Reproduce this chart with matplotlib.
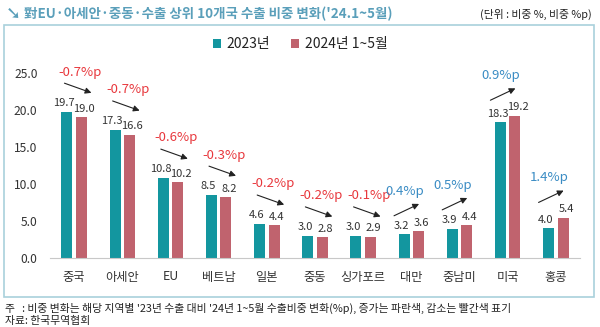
import numpy as np
import matplotlib
matplotlib.use('Agg')
from matplotlib import pyplot as plt
from matplotlib.patches import Rectangle

plt.rcParams['font.family'] = ['Noto Sans CJK KR', 'DejaVu Sans']

regions = ['중국', '아세안', 'EU', '베트남', '일본', '중동', '싱가포르', '대만', '중남미', '미국', '홍콩']
share_2023 = [19.7, 17.3, 10.8, 8.5, 4.6, 3.0, 3.0, 3.2, 3.9, 18.3, 4.0]
share_2024 = [19.0, 16.6, 10.2, 8.2, 4.4, 2.8, 2.9, 3.6, 4.4, 19.2, 5.4]
change = [-0.7, -0.7, -0.6, -0.3, -0.2, -0.2, -0.1, 0.4, 0.5, 0.9, 1.4]
yticks = [0, 5, 10, 15, 20, 25]

teal = '#13969f'
pink = '#c0636e'
red = '#e8383d'
blue = '#3a8cc4'
frame = '#a9d1dc'

fig = plt.figure(figsize=(6, 3.27), dpi=100)
ax = fig.add_axes([50/600, 69/327, 530/600, 200/327])

x = np.arange(len(regions))
w = 0.23
gap = 0.035
ax.bar(x - w/2 - gap, share_2023, w, color=teal, label='2023년')
ax.bar(x + w/2 + gap, share_2024, w, color=pink, label='2024년 1~5월')

for i in range(len(regions)):
    ax.text(x[i] - w/2 - gap - 0.06, share_2023[i] + 0.5, f'{share_2023[i]:.1f}',
            ha='center', va='bottom', fontsize=8, color='#333333')
    ax.text(x[i] + w/2 + gap + 0.06, share_2024[i] + 0.5, f'{share_2024[i]:.1f}',
            ha='center', va='bottom', fontsize=8, color='#333333')
    top = max(share_2023[i], share_2024[i])
    if change[i] < 0:
        start, end = (x[i] - 0.2, top + 3.9), (x[i] + 0.36, top + 2.6)
        tx, col = x[i] + 0.12, red
    else:
        start, end = (x[i] - 0.36, top + 2.1), (x[i] + 0.16, top + 3.7)
        tx, col = x[i] - 0.14, blue
    ax.annotate('', xy=end, xytext=start,
                arrowprops=dict(arrowstyle='-|>', color='#222222', lw=0.8,
                                mutation_scale=9, shrinkA=0, shrinkB=0))
    ax.text(tx, top + 5.4, f'{change[i]:.1f}%p', ha='center', va='center',
            fontsize=9.5, color=col)

ax.set_xlim(-0.5, 10.5)
ax.set_ylim(0, 27)
ax.set_yticks(yticks)
ax.set_yticklabels([f'{v:.1f}' for v in yticks], fontsize=8.7, color='#333333')
ax.set_xticks(x)
ax.set_xticklabels(regions, fontsize=8.8, color='#333333')
ax.tick_params(axis='y', length=0, pad=9)
ax.tick_params(axis='x', length=0, pad=9)
for s in ['top', 'right', 'left']:
    ax.spines[s].set_visible(False)
ax.spines['bottom'].set_color('#c8c8c8')
ax.spines['bottom'].set_linewidth(0.8)

leg = fig.legend(loc='center', bbox_to_anchor=(0.5, 1 - 44/327), ncol=2, frameon=False,
                 fontsize=10, handlelength=0.6, handleheight=0.6, handletextpad=0.4,
                 columnspacing=1.5)
for t in leg.get_texts():
    t.set_color('#222222')

fig.patches.append(Rectangle((4/600, 30/327), 590/600, 272/327, transform=fig.transFigure,
                             fill=False, edgecolor=frame, lw=1.2))

fig.text(6/600, 1 - 14/327, '➘', fontsize=13, color='#5a9fba', va='center',
         fontweight='bold', family=['DejaVu Sans'])
fig.text(24/600, 1 - 14/327, "對EU·아세안·중동·수출 상위 10개국 수출 비중 변화('24.1~5월)",
         fontsize=9.7, fontweight='bold', color='#5a9fba', va='center')
fig.text(592/600, 1 - 14/327, '(단위 : 비중 %, 비중 %p)', fontsize=7.8, color='#222222',
         ha='right', va='center')

fig.text(5/600, 1 - 308/327,
         "주   : 비중 변화는 해당 지역별 '23년 수출 대비 '24년 1~5월 수출비중 변화(%p), 증가는 파란색, 감소는 빨간색 표기",
         fontsize=7.8, color='#222222', va='center')
fig.text(5/600, 1 - 321/327, '자료: 한국무역협회', fontsize=7.8, color='#222222', va='center')

fig.savefig('out.png', dpi=100)
